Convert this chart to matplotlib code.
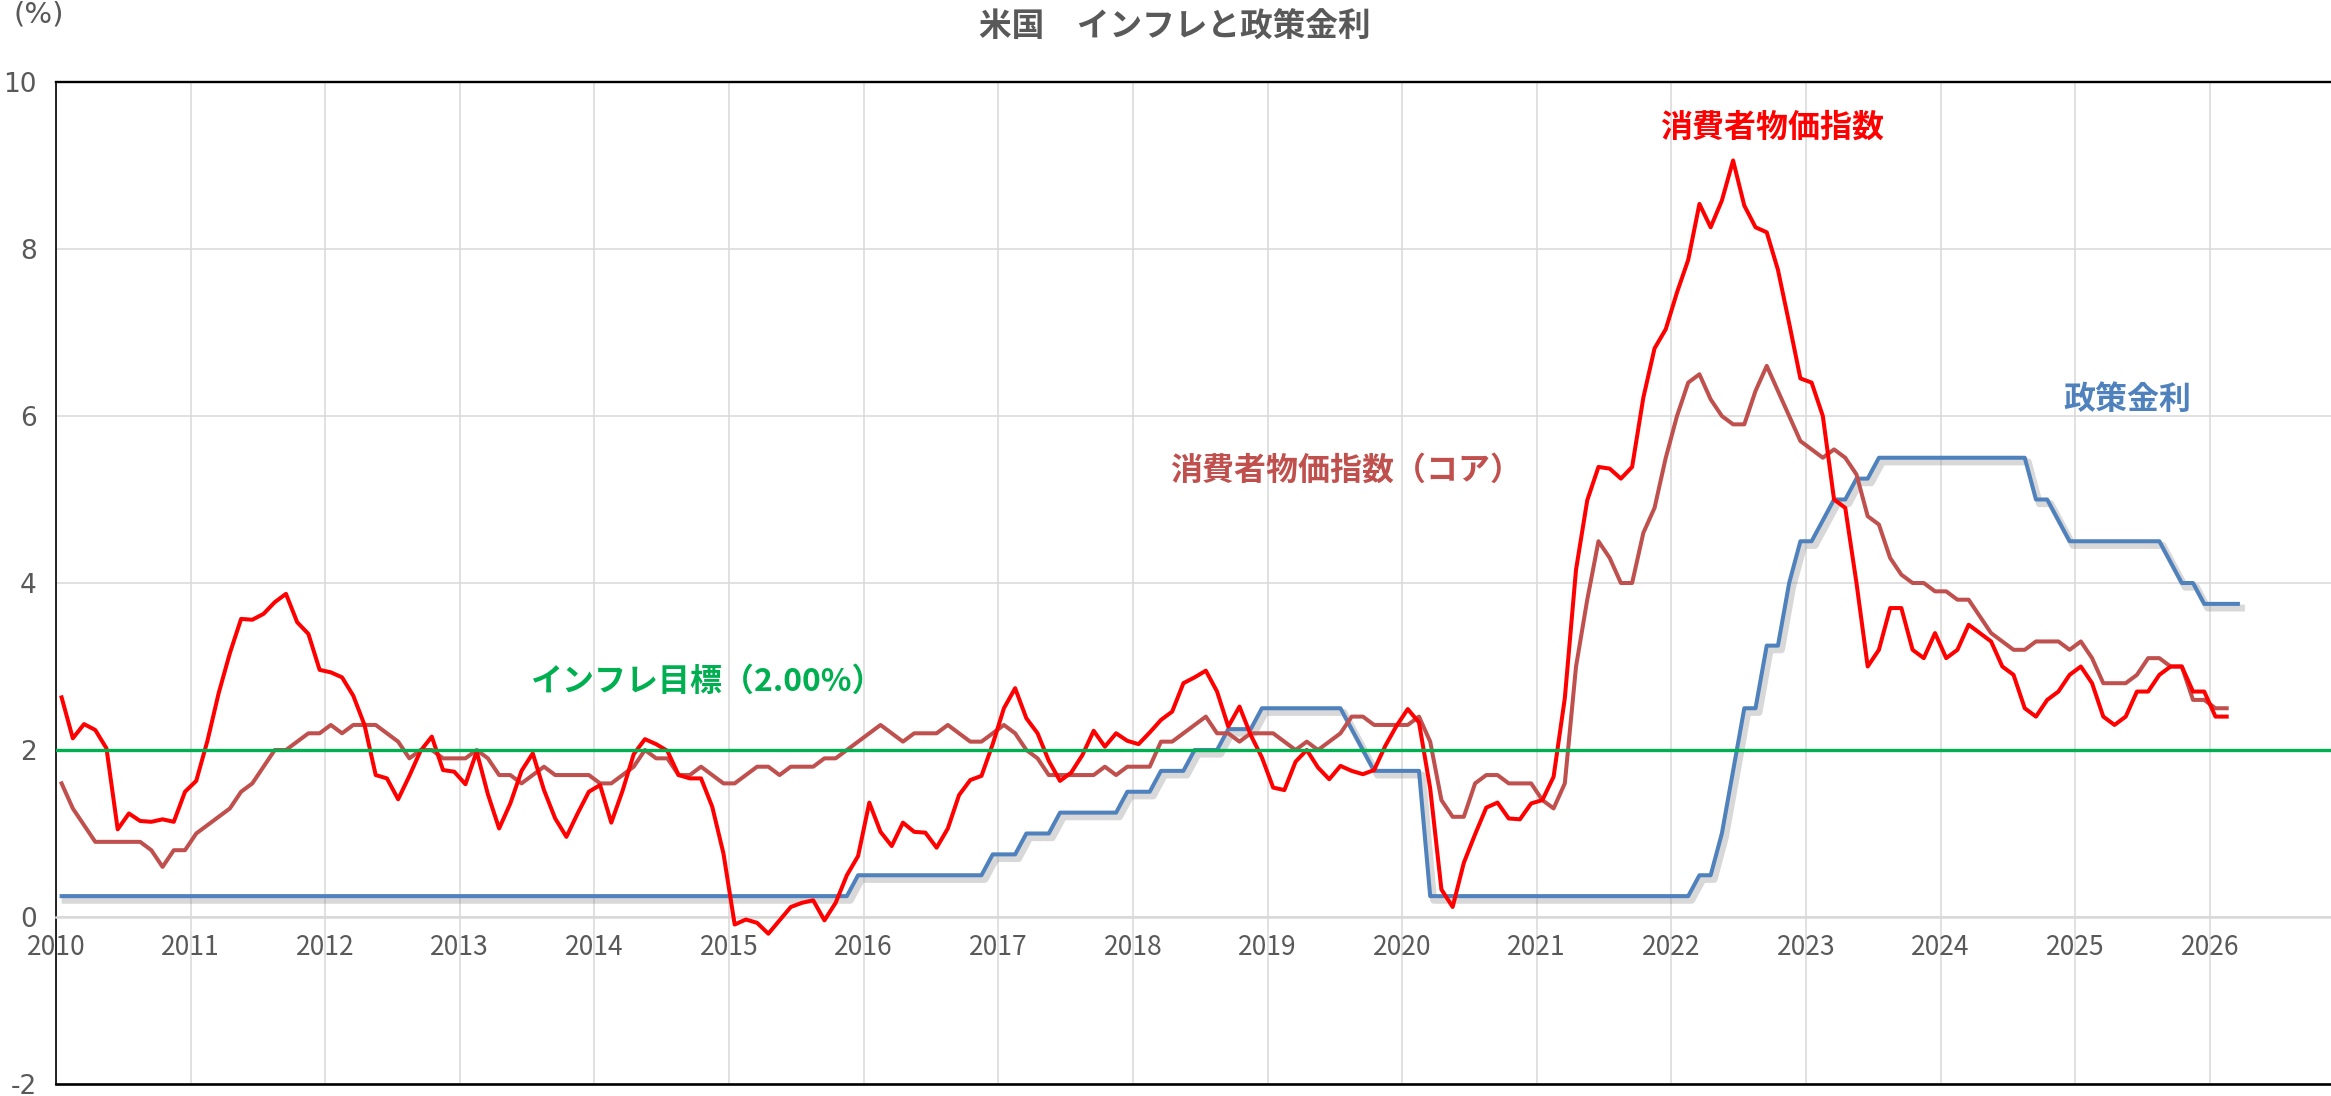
"""
US inflation vs policy rate, monthly 2010-2026.
"""

import numpy as np
import matplotlib
matplotlib.use('Agg')
import matplotlib.pyplot as plt
import matplotlib.patheffects as pe

plt.rcParams['font.family'] = ['Noto Sans CJK JP', 'DejaVu Sans']
plt.rcParams['axes.unicode_minus'] = False

START_YEAR = 2010

# CPI YoY (%), Jan 2010 - Feb 2026
cpi = [
    2.63, 2.14, 2.31, 2.24, 2.02, 1.05, 1.24, 1.15, 1.14, 1.17, 1.14, 1.50,  # 2010
    1.63, 2.11, 2.68, 3.16, 3.57, 3.56, 3.63, 3.77, 3.87, 3.53, 3.39, 2.96,  # 2011
    2.93, 2.87, 2.65, 2.30, 1.70, 1.66, 1.41, 1.69, 1.99, 2.16, 1.76, 1.74,  # 2012
    1.59, 1.98, 1.47, 1.06, 1.36, 1.75, 1.96, 1.52, 1.18, 0.96, 1.24, 1.50,  # 2013
    1.58, 1.13, 1.51, 1.95, 2.13, 2.07, 1.99, 1.70, 1.66, 1.66, 1.32, 0.76,  # 2014
    -0.09, -0.03, -0.07, -0.20, -0.04, 0.12, 0.17, 0.20, -0.04, 0.17, 0.50, 0.73,  # 2015
    1.37, 1.02, 0.85, 1.13, 1.02, 1.01, 0.83, 1.06, 1.46, 1.64, 1.69, 2.07,  # 2016
    2.50, 2.74, 2.38, 2.20, 1.87, 1.63, 1.73, 1.94, 2.23, 2.04, 2.20, 2.11,  # 2017
    2.07, 2.21, 2.36, 2.46, 2.80, 2.87, 2.95, 2.70, 2.28, 2.52, 2.18, 1.91,  # 2018
    1.55, 1.52, 1.86, 2.00, 1.79, 1.65, 1.81, 1.75, 1.71, 1.76, 2.05, 2.29,  # 2019
    2.49, 2.33, 1.54, 0.33, 0.12, 0.65, 0.99, 1.31, 1.37, 1.18, 1.17, 1.36,  # 2020
    1.40, 1.68, 2.62, 4.16, 4.99, 5.39, 5.37, 5.25, 5.39, 6.22, 6.81, 7.04,  # 2021
    7.48, 7.87, 8.54, 8.26, 8.58, 9.06, 8.52, 8.26, 8.20, 7.75, 7.11, 6.45,  # 2022
    6.4, 6.0, 5.0, 4.9, 4.0, 3.0, 3.2, 3.7, 3.7, 3.2, 3.1, 3.4,  # 2023
    3.1, 3.2, 3.5, 3.4, 3.3, 3.0, 2.9, 2.5, 2.4, 2.6, 2.7, 2.9,  # 2024
    3.0, 2.8, 2.4, 2.3, 2.4, 2.7, 2.7, 2.9, 3.0, 3.0, 2.7, 2.7,  # 2025
    2.4, 2.4,  # 2026
]

# core CPI YoY (%), Jan 2010 - Feb 2026
core_cpi = [
    1.6, 1.3, 1.1, 0.9, 0.9, 0.9, 0.9, 0.9, 0.8, 0.6, 0.8, 0.8,  # 2010
    1.0, 1.1, 1.2, 1.3, 1.5, 1.6, 1.8, 2.0, 2.0, 2.1, 2.2, 2.2,  # 2011
    2.3, 2.2, 2.3, 2.3, 2.3, 2.2, 2.1, 1.9, 2.0, 2.0, 1.9, 1.9,  # 2012
    1.9, 2.0, 1.9, 1.7, 1.7, 1.6, 1.7, 1.8, 1.7, 1.7, 1.7, 1.7,  # 2013
    1.6, 1.6, 1.7, 1.8, 2.0, 1.9, 1.9, 1.7, 1.7, 1.8, 1.7, 1.6,  # 2014
    1.6, 1.7, 1.8, 1.8, 1.7, 1.8, 1.8, 1.8, 1.9, 1.9, 2.0, 2.1,  # 2015
    2.2, 2.3, 2.2, 2.1, 2.2, 2.2, 2.2, 2.3, 2.2, 2.1, 2.1, 2.2,  # 2016
    2.3, 2.2, 2.0, 1.9, 1.7, 1.7, 1.7, 1.7, 1.7, 1.8, 1.7, 1.8,  # 2017
    1.8, 1.8, 2.1, 2.1, 2.2, 2.3, 2.4, 2.2, 2.2, 2.1, 2.2, 2.2,  # 2018
    2.2, 2.1, 2.0, 2.1, 2.0, 2.1, 2.2, 2.4, 2.4, 2.3, 2.3, 2.3,  # 2019
    2.3, 2.4, 2.1, 1.4, 1.2, 1.2, 1.6, 1.7, 1.7, 1.6, 1.6, 1.6,  # 2020
    1.4, 1.3, 1.6, 3.0, 3.8, 4.5, 4.3, 4.0, 4.0, 4.6, 4.9, 5.5,  # 2021
    6.0, 6.4, 6.5, 6.2, 6.0, 5.9, 5.9, 6.3, 6.6, 6.3, 6.0, 5.7,  # 2022
    5.6, 5.5, 5.6, 5.5, 5.3, 4.8, 4.7, 4.3, 4.1, 4.0, 4.0, 3.9,  # 2023
    3.9, 3.8, 3.8, 3.6, 3.4, 3.3, 3.2, 3.2, 3.3, 3.3, 3.3, 3.2,  # 2024
    3.3, 3.1, 2.8, 2.8, 2.8, 2.9, 3.1, 3.1, 3.0, 3.0, 2.6, 2.6,  # 2025
    2.5, 2.5,  # 2026
]

# policy rate (FF upper bound, month end), Jan 2010 - Mar 2026
policy_rate = [
    0.25, 0.25, 0.25, 0.25, 0.25, 0.25, 0.25, 0.25, 0.25, 0.25, 0.25, 0.25,  # 2010
    0.25, 0.25, 0.25, 0.25, 0.25, 0.25, 0.25, 0.25, 0.25, 0.25, 0.25, 0.25,  # 2011
    0.25, 0.25, 0.25, 0.25, 0.25, 0.25, 0.25, 0.25, 0.25, 0.25, 0.25, 0.25,  # 2012
    0.25, 0.25, 0.25, 0.25, 0.25, 0.25, 0.25, 0.25, 0.25, 0.25, 0.25, 0.25,  # 2013
    0.25, 0.25, 0.25, 0.25, 0.25, 0.25, 0.25, 0.25, 0.25, 0.25, 0.25, 0.25,  # 2014
    0.25, 0.25, 0.25, 0.25, 0.25, 0.25, 0.25, 0.25, 0.25, 0.25, 0.25, 0.50,  # 2015
    0.50, 0.50, 0.50, 0.50, 0.50, 0.50, 0.50, 0.50, 0.50, 0.50, 0.50, 0.75,  # 2016
    0.75, 0.75, 1.00, 1.00, 1.00, 1.25, 1.25, 1.25, 1.25, 1.25, 1.25, 1.50,  # 2017
    1.50, 1.50, 1.75, 1.75, 1.75, 2.00, 2.00, 2.00, 2.25, 2.25, 2.25, 2.50,  # 2018
    2.50, 2.50, 2.50, 2.50, 2.50, 2.50, 2.50, 2.25, 2.00, 1.75, 1.75, 1.75,  # 2019
    1.75, 1.75, 0.25, 0.25, 0.25, 0.25, 0.25, 0.25, 0.25, 0.25, 0.25, 0.25,  # 2020
    0.25, 0.25, 0.25, 0.25, 0.25, 0.25, 0.25, 0.25, 0.25, 0.25, 0.25, 0.25,  # 2021
    0.25, 0.25, 0.50, 0.50, 1.00, 1.75, 2.50, 2.50, 3.25, 3.25, 4.00, 4.50,  # 2022
    4.50, 4.75, 5.00, 5.00, 5.25, 5.25, 5.50, 5.50, 5.50, 5.50, 5.50, 5.50,  # 2023
    5.50, 5.50, 5.50, 5.50, 5.50, 5.50, 5.50, 5.50, 5.00, 5.00, 4.75, 4.50,  # 2024
    4.50, 4.50, 4.50, 4.50, 4.50, 4.50, 4.50, 4.50, 4.25, 4.00, 4.00, 3.75,  # 2025
    3.75, 3.75, 3.75,  # 2026
]

INFLATION_TARGET = 2.0

YEARS = list(range(2010, 2027))
YTICKS = [-2, 0, 2, 4, 6, 8, 10]

TITLE = '米国\u3000インフレと政策金利'
LABEL_CPI = '消費者物価指数'
LABEL_CORE = '消費者物価指数（コア）'
LABEL_RATE = '政策金利'
LABEL_TARGET = 'インフレ目標（2.00%）'

RED = '#FF0000'
CORE = '#C0504D'
BLUE = '#4F81BD'
GREEN = '#00B050'
GRAY = '#595959'


def month_x(n):
    # points sit mid-month on a date axis
    return START_YEAR + (np.arange(n) + 0.5) / 12.0


fig = plt.figure(figsize=(23.31, 10.96), dpi=100)
W, H = 2331, 1096
ax = fig.add_axes([56 / W, 12 / H, 1 - 56 / W, 1002 / H])

ax.set_xlim(2010, 2026.9)
ax.set_ylim(-2, 10)
ax.set_xticks(YEARS)
ax.set_xticklabels([str(y) for y in YEARS])
ax.set_yticks(YTICKS)
ax.set_yticklabels([str(v) for v in YTICKS])
ax.grid(True, color='#D9D9D9', linewidth=1.1)
ax.set_axisbelow(True)
ax.tick_params(length=0, labelsize=19, labelcolor=GRAY)
ax.tick_params(axis='x', pad=12)
ax.tick_params(axis='y', pad=14)
for lab in ax.get_xticklabels() + ax.get_yticklabels():
    lab.set_fontfamily('DejaVu Sans')

ax.spines['right'].set_visible(False)
ax.spines['top'].set_color('black')
ax.spines['top'].set_linewidth(1.7)
ax.spines['left'].set_color('black')
ax.spines['left'].set_linewidth(1.2)
ax.spines['bottom'].set_position(('data', 0))
ax.spines['bottom'].set_color('#D9D9D9')
ax.spines['bottom'].set_linewidth(1.8)
ax.axhline(-2, color='black', linewidth=1.9, clip_on=False, zorder=5)

lw = 2.9
ax.plot(month_x(len(policy_rate)), policy_rate, color=BLUE, linewidth=lw, zorder=3,
        path_effects=[pe.SimpleLineShadow(offset=(2.5, -3), shadow_color='#808080',
                                          alpha=0.3, linewidth=5),
                      pe.Normal()])
ax.plot(month_x(len(core_cpi)), core_cpi, color=CORE, linewidth=lw, zorder=3)
ax.plot(month_x(len(cpi)), cpi, color=RED, linewidth=lw, zorder=4)
ax.axhline(INFLATION_TARGET, color=GREEN, linewidth=2.4, zorder=5)

ax.text(2022.75, 9.45, LABEL_CPI, color=RED, fontsize=23, fontweight='bold',
        ha='center', va='center')
ax.text(2019.58, 5.35, LABEL_CORE, color=CORE, fontsize=23, fontweight='bold',
        ha='center', va='center')
ax.text(2025.39, 6.19, LABEL_RATE, color=BLUE, fontsize=23, fontweight='bold',
        ha='center', va='center')
ax.text(2014.84, 2.82, LABEL_TARGET, color=GREEN, fontsize=23, fontweight='bold',
        ha='center', va='center')

fig.text(0.504, 0.975, TITLE, color=GRAY, fontsize=23.5, fontweight='bold',
         ha='center', va='center')
fig.text(39 / W, 1 - 14 / H, '(%)', color=GRAY, fontsize=21, ha='center', va='center',
         family='DejaVu Sans')

fig.savefig('out.png', dpi=100, facecolor='white')
plt.close(fig)
